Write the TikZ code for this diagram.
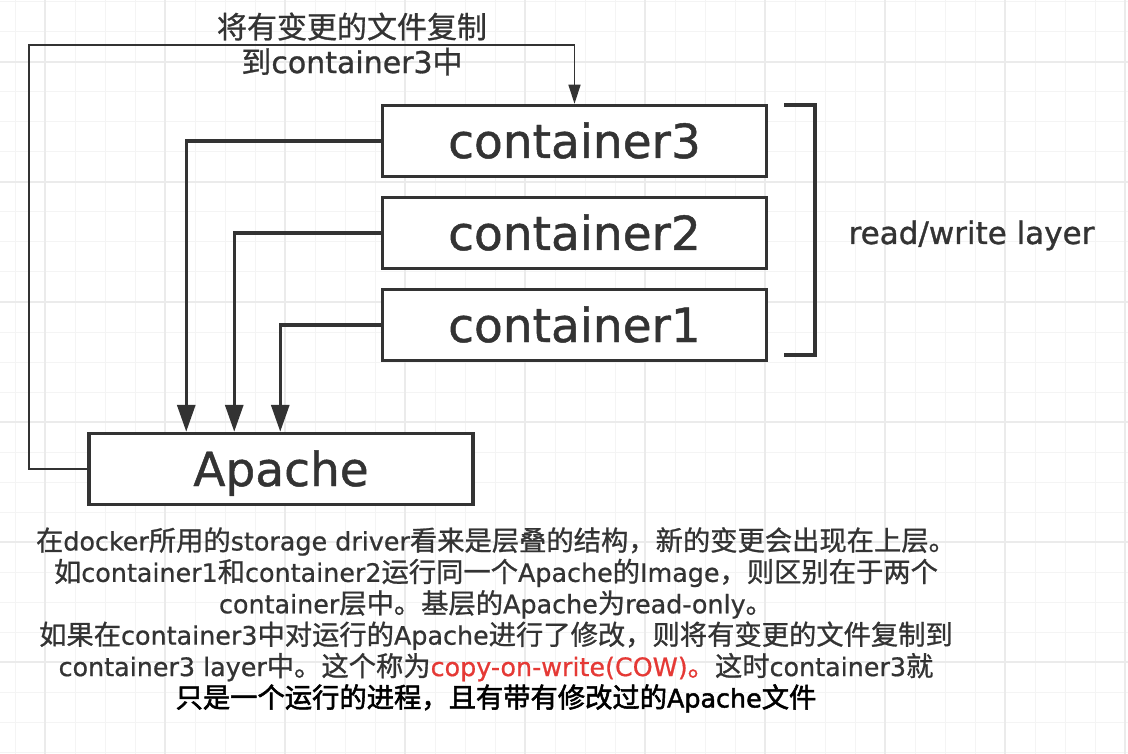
\documentclass[tikz,border=0pt]{standalone}
\usepackage{fontspec}
\usetikzlibrary{arrows.meta}
\newfontfamily\cjk{Noto Sans CJK SC}[FakeBold=0.9]
\newfontfamily\cjkb{Noto Sans CJK SC}[FakeBold=2.0]
\newfontfamily\lat{DejaVu Sans}[Scale=0.93,FakeBold=0.7]
\newfontfamily\latb{DejaVu Sans}[Scale=0.93,FakeBold=1.8]
\newfontfamily\labfont{DejaVu Sans}[FakeBold=1.0]
\newcommand\lw[1]{{\lat #1}}
\newcommand\lwb[1]{{\latb #1}}
\definecolor{ink}{HTML}{333333}
\definecolor{cowred}{HTML}{E53935}
\definecolor{gridminor}{HTML}{F4F4F4}
\definecolor{gridmajor}{HTML}{EBEBEB}
\tikzset{
  layerbox/.style={draw=ink, line width=3.5pt, fill=white, minimum width=384pt,
    minimum height=71pt, inner sep=0pt, text=ink,
    font=\labfont\fontsize{47}{56}\selectfont, text height=34pt, text depth=0pt},
  thickconn/.style={draw=ink, line width=3.2pt, -{Triangle[length=27pt,width=18pt]}},
  thinconn/.style={draw=ink, line width=1.4pt, -{Triangle[length=19pt,width=12pt]}},
  bracket/.style={draw=ink, line width=3.5pt}
}
\begin{document}
\begin{tikzpicture}[x=1pt,y=-1pt]
\useasboundingbox (0,0) rectangle (1128,754);
\fill[white] (0,0) rectangle (1128,754);
% grid
\foreach \x in {15,45,...,1125} \draw[gridminor, line width=1pt] (\x,0) -- (\x,754);
\foreach \y in {2,32,...,752} \draw[gridminor, line width=1pt] (0,\y) -- (1128,\y);
\foreach \x in {45,165,...,1125} \draw[gridmajor, line width=1.2pt] (\x,0) -- (\x,754);
\foreach \y in {62,182,...,722} \draw[gridmajor, line width=1.2pt] (0,\y) -- (1128,\y);

% boxes
\node[layerbox] (c3) at (574.5,141) {container3};
\node[layerbox] (c2) at (574.5,233) {container2};
\node[layerbox] (c1) at (574.5,325) {container1};
\node[layerbox] (apache) at (281,469) {Apache};

% bracket
\coordinate (bt1) at (784,105);
\coordinate (bt2) at (815,105);
\coordinate (bb2) at (815,355);
\coordinate (bb1) at (784,355);
\draw[bracket] (bt1) -- (bt2) -- (bb2) -- (bb1);
\node[anchor=base, text=ink, font=\labfont\fontsize{31}{36}\selectfont] (rw) at (971.5,244) {read/write layer};

% connectors to Apache
\draw[thickconn] (c3.west) -| ([xshift=99pt]apache.north west);
\draw[thickconn] (c2.west) -| ([xshift=147pt]apache.north west);
\draw[thickconn] (c1.west) -| ([xshift=193pt]apache.north west);

% copy connector
\coordinate (lp) at (29,45);
\draw[thinconn] (apache.west) -| (lp) -| (c3.north);
\node[text=ink, align=center, font=\cjk\fontsize{30}{35}\selectfont] (lbl) at (352,44)
  {将有变更的文件复制\\到{\labfont container3}中};

% note
\node[text=ink, align=center, font=\cjk\fontsize{27.3}{31.4}\selectfont] (note) at (496,620)
  {在\lw{docker}所用的\lw{storage driver}看来是层叠的结构，新的变更会出现在上层。\\
   如\lw{container1}和\lw{container2}运行同一个\lw{Apache}的\lw{Image}，则区别在于两个\\
   \lw{container}层中。基层的\lw{Apache}为\lw{read-only}。\\
   如果在\lw{container3}中对运行的\lw{Apache}进行了修改，则将有变更的文件复制到\\
   \lw{container3 layer}中。这个称为{\color{cowred}\lw{copy-on-write(COW)}。}这时\lw{container3}就\\
   {\color{black}\cjkb 只是一个运行的进程，且有带有修改过的\lwb{Apache}文件}};
\end{tikzpicture}
\end{document}
